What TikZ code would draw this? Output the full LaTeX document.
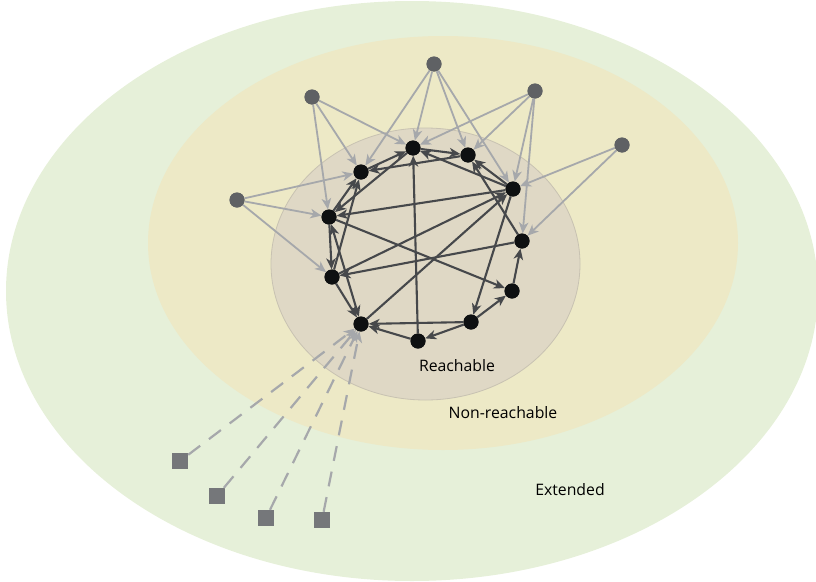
\documentclass[tikz,border=0pt]{standalone}
\usepackage{fontspec}
\setmainfont{Open Sans}
\usetikzlibrary{arrows.meta}
\definecolor{extgreen}{RGB}{230,240,217}
\definecolor{nonyellow}{RGB}{237,233,198}
\definecolor{reachfill}{RGB}{223,216,197}
\definecolor{reachline}{RGB}{200,194,178}
\definecolor{coreblack}{RGB}{14,16,17}
\definecolor{outergray}{RGB}{95,97,100}
\definecolor{darkedge}{RGB}{70,72,75}
\definecolor{lightedge}{RGB}{166,168,171}
\definecolor{squaregray}{RGB}{117,119,122}
\tikzset{
  tip/.tip={Stealth[length=11pt,width=9.5pt,inset=3.2pt]},
  core/.style={circle, fill=coreblack, minimum size=15pt, inner sep=0pt},
  outer/.style={circle, fill=outergray, minimum size=15pt, inner sep=0pt},
  ext/.style={rectangle, fill=squaregray, minimum size=16pt, inner sep=0pt},
  dk/.style={draw=darkedge, line width=2.1pt, -tip},
  lt/.style={draw=lightedge, line width=1.8pt, -tip},
  dashlink/.style={lt, line width=2.2pt, dash pattern=on 15pt off 11pt},
  lbl/.style={font=\fontsize{15.8}{18}\selectfont, text=black}
}
\begin{document}
\begin{tikzpicture}[x=1pt,y=-1pt]
\useasboundingbox (0,0) rectangle (816,581);
% nested regions
\fill[extgreen] (412,291) ellipse [x radius=406, y radius=290];
\fill[nonyellow] (443,243) ellipse [x radius=295, y radius=207];
\filldraw[fill=reachfill, draw=reachline, line width=0.8pt] (425.5,264) ellipse [x radius=154.5, y radius=136];

% reachable core
\node[core] (A) at (413,148) {};
\node[core] (B) at (468,155) {};
\node[core] (C) at (513,189) {};
\node[core] (D) at (522,241) {};
\node[core] (E) at (512,291) {};
\node[core] (F) at (471,322) {};
\node[core] (G) at (418,341) {};
\node[core] (H) at (361,324) {};
\node[core] (I) at (332,277) {};
\node[core] (J) at (329,217) {};
\node[core] (K) at (361,172) {};

% non-reachable nodes
\node[outer] (P1) at (312,97) {};
\node[outer] (P2) at (434,64) {};
\node[outer] (P3) at (535,91) {};
\node[outer] (P4) at (622,145) {};
\node[outer] (P5) at (237,200) {};

% extended nodes
\node[ext] (S1) at (180,461) {};
\node[ext] (S2) at (217,496) {};
\node[ext] (S3) at (266,518) {};
\node[ext] (S4) at (322,520) {};

% links from non-reachable nodes
\draw[lt] (P1) -- (K);
\draw[lt] (P1) -- (A);
\draw[lt] (P1) -- (J);
\draw[lt] (P2) -- (K);
\draw[lt] (P2) -- (A);
\draw[lt] (P2) -- (B);
\draw[lt] (P2) -- (C);
\draw[lt] (P3) -- (A);
\draw[lt] (P3) -- (B);
\draw[lt] (P3) -- (C);
\draw[lt] (P3) -- (D);
\draw[lt] (P4) -- (C);
\draw[lt] (P4) -- (D);
\draw[lt] (P5) -- (K);
\draw[lt] (P5) -- (J);
\draw[lt] (P5) -- (I);

% links from extended nodes
\draw[dashlink] (S1) -- (H);
\draw[dashlink] (S2) -- (H);
\draw[dashlink] (S3) -- (H);
\draw[dashlink] (S4) -- (H);

% links inside the reachable set
\draw[dk] (K) -- (A);
\draw[dk] (B) -- (K);
\draw[dk] (A) -- (B);
\draw[dk] (C) -- (A);
\draw[dk] (C) -- (B);
\draw[dk] (D) -- (B);
\draw[dk] (A) -- (J);
\draw[dk] (J) -- (K);
\draw[dk] (I) -- (K);
\draw[dk] (C) -- (J);
\draw[dk] (I) -- (C);
\draw[dk] (H) -- (C);
\draw[dk] (D) -- (I);
\draw[dk] (J) -- (E);
\draw[dk] (C) -- (F);
\draw[dk] (G) -- (A);
\draw[dk] (F) -- (H);
\draw[dk] (G) -- (H);
\draw[dk] (F) -- (G);
\draw[dk] (F) -- (E);
\draw[dk] (E) -- (D);
\draw[dk] (J) -- (I);
\draw[dk] (I) -- (H);
\draw[dk, tip-tip] (J) -- (H);

% redraw nodes over the links
\foreach \p in {{413,148},{468,155},{513,189},{522,241},{512,291},{471,322},{418,341},{361,324},{332,277},{329,217},{361,172}}
  \fill[coreblack] (\p) circle[radius=7.5pt];
\foreach \p in {{312,97},{434,64},{535,91},{622,145},{237,200}}
  \fill[outergray] (\p) circle[radius=7.5pt];

% region labels
\node[lbl] (tReach) at (457,366) {Reachable};
\node[lbl] (tNon) at (503,413) {Non-reachable};
\node[lbl] (tExt) at (570,490) {Extended};
\end{tikzpicture}
\end{document}
